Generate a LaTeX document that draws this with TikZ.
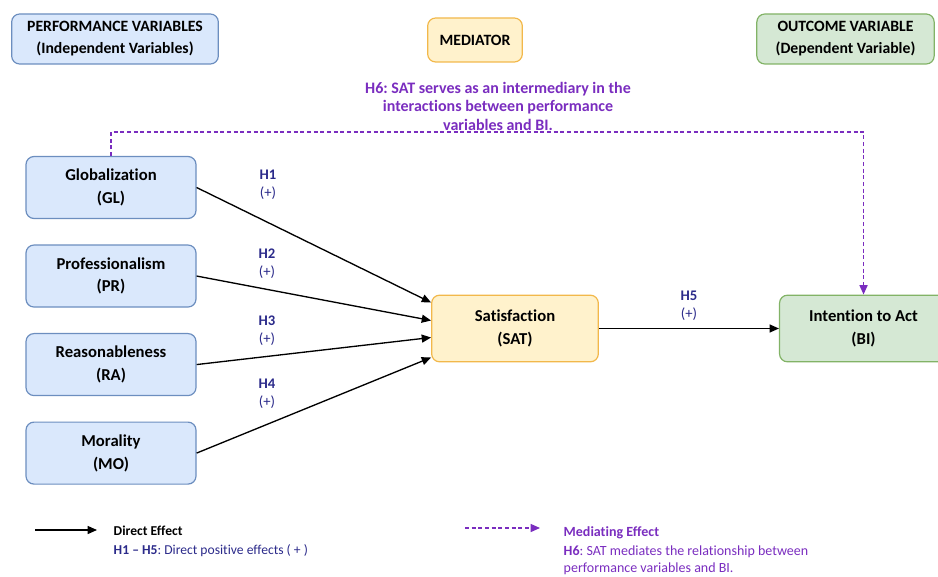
\documentclass[tikz,border=0pt]{standalone}
\usepackage{fontspec}
\setmainfont{Carlito}[Ligatures=NoCommon]
\frenchspacing
\usetikzlibrary{arrows.meta,positioning,calc}
\definecolor{varBlue}{HTML}{DAE8FC}
\definecolor{varBlueLine}{HTML}{6C8EBF}
\definecolor{medYellow}{HTML}{FFF2CC}
\definecolor{medYellowLine}{HTML}{F2B84B}
\definecolor{outGreen}{HTML}{D5E8D4}
\definecolor{outGreenLine}{HTML}{82B366}
\definecolor{hypNavy}{HTML}{2B2A8A}
\definecolor{medPurple}{HTML}{7A2DBF}

\begin{document}
\begin{tikzpicture}[x=0.75pt,y=-0.75pt,
  box/.style={draw=#1Line,fill=#1,rounded corners=6pt,line width=0.9pt,
    align=center,font=\fontsize{12.5}{17}\selectfont\bfseries},
  head/.style={box=#1,font=\fontsize{11.8}{16.5}\selectfont\bfseries},
  var/.style={box=varBlue,minimum width=127.5pt,minimum height=46.5pt},
  hyp/.style={text=hypNavy,align=center,font=\fontsize{11}{13.5}\selectfont},
  legend/.style={align=left,font=\fontsize{10.2}{13.5}\selectfont},
  direct/.style={-{Triangle[length=7pt,width=6pt]},line width=1pt,black},
  mediate/.style={-{Triangle[length=7pt,width=6pt]},line width=1pt,medPurple,
    dash pattern=on 3pt off 2pt}]
\useasboundingbox (0,0) rectangle (938,577);
% headers
\node[head=varBlue,minimum width=155pt,minimum height=37.5pt] (hpv) at (115,39) {PERFORMANCE VARIABLES\\(Independent Variables)};
\node[head=medYellow,minimum width=71pt,minimum height=33pt] (hmed) at (475,40) {MEDIATOR};
\node[head=outGreen,minimum width=133pt,minimum height=37.5pt] (hout) at (845.5,39) {OUTCOME VARIABLE\\(Dependent Variable)};
% performance variables
\node[var] (gl) at (111,187.5) {Globalization\\(GL)};
\node[var,below=19pt of gl] (pr) {Professionalism\\(PR)};
\node[var,below=19pt of pr] (ra) {Reasonableness\\(RA)};
\node[var,below=19pt of ra] (mo) {Morality\\(MO)};
% mediator and outcome
\node[box=medYellow,minimum width=125pt,minimum height=50pt] (sat) at (515,328.5) {Satisfaction\\(SAT)};
\node[box=outGreen,minimum width=126pt,minimum height=50pt,right=135pt of sat] (bi) {Intention to Act\\(BI)};
% direct effects
\draw[direct] (gl.east) -- ($(sat.west)+(0,-26)$);
\draw[direct] (pr.east) -- ($(sat.west)+(0,-8)$);
\draw[direct] (ra.east) -- ($(sat.west)+(0,9)$);
\draw[direct] (mo.east) -- ($(sat.west)+(0,29)$);
\draw[direct] (sat) -- node[hyp,midway,above=2pt]{\textbf{H5}\\(+)} (bi);
\node[hyp] (h1) at (268,185) {\textbf{H1}\\(+)};
\node[hyp] (h2) at (267,264) {\textbf{H2}\\(+)};
\node[hyp] (h3) at (267,331) {\textbf{H3}\\(+)};
\node[hyp] (h4) at (267,394) {\textbf{H4}\\(+)};
% mediating effect
\draw[mediate] (gl.north) -- ++(0,-24) -| (bi.north);
\node[text=medPurple,align=center,font=\fontsize{12}{13.9}\selectfont\bfseries] (h6) at (498,106) {H6: SAT serves as an intermediary in the\\interactions between performance\\variables and BI.};
% legend
\coordinate (dl1) at (35,530);
\coordinate (dl2) at (97,530);
\draw[direct] (dl1) -- (dl2);
\node[legend,anchor=west,font=\fontsize{10.2}{13.5}\selectfont\bfseries] (dtxt) at (109,531) {Direct Effect};
\node[legend,anchor=west,text=hypNavy] (dnote) at (109,551) {\textbf{H1 – H5}: Direct positive effects ( + )};
\coordinate (ml1) at (465,528);
\coordinate (ml2) at (540,528);
\draw[mediate] (ml1) -- (ml2);
\node[legend,anchor=west,text=medPurple,font=\fontsize{10.5}{13.5}\selectfont\bfseries] (mtxt) at (559,533) {Mediating Effect};
\node[legend,anchor=west,text=medPurple,font=\fontsize{10.5}{12.6}\selectfont] (mnote) at (559,560) {\textbf{H6}: SAT mediates the relationship between\\performance variables and BI.};
\end{tikzpicture}
\end{document}
